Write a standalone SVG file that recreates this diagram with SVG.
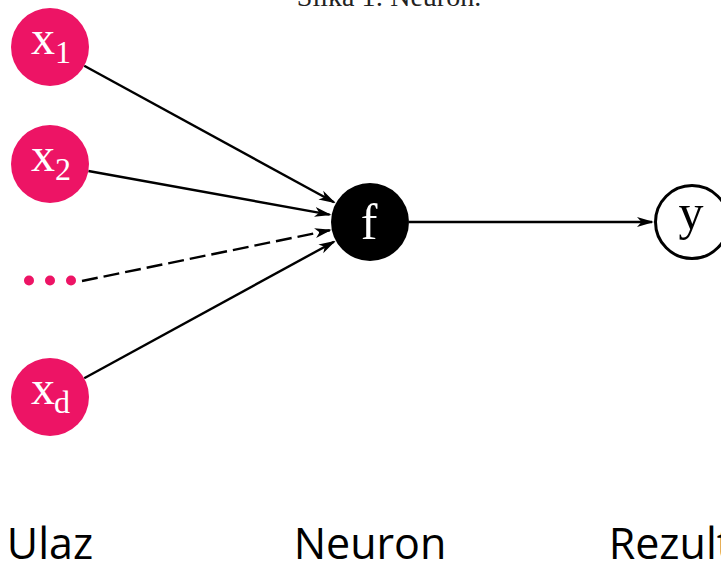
<svg xmlns="http://www.w3.org/2000/svg" width="721" height="564" viewBox="0 0 721 564">
<style>
.in{fill:#ED1465}
.lbl{font-family:"Liberation Serif","Times New Roman",serif;fill:#fff;font-size:48px}
.sub{font-size:32px}
.cap{font-family:"Open Sans","Noto Sans",sans-serif;font-size:43px;fill:#000;text-anchor:middle}
.edge{stroke:#000;stroke-width:2.4;fill:none;marker-end:url(#ah)}
</style>
<defs>
<marker id="ah" markerUnits="userSpaceOnUse" viewBox="0 0 17 11" refX="15" refY="5.5" markerWidth="17" markerHeight="11" orient="auto">
<path d="M0,0.5 L17,5.5 L0,10.5 L4.5,5.5 Z" fill="#000"/>
</marker>
</defs>
<text x="389" y="6" style="font-family:'Liberation Serif','Times New Roman',serif;font-size:28px;fill:#222;text-anchor:middle">Slika 1: Neuron.</text>
<g id="connectors">
<line class="edge" x1="84.2" y1="65.7" x2="334" y2="202.3"/>
<line class="edge" x1="88.4" y1="171" x2="329.6" y2="214.6"/>
<line class="edge" x1="82" y1="281" x2="329.8" y2="230.2" stroke-dasharray="16 6"/>
<line class="edge" x1="84.2" y1="378.3" x2="334" y2="241.7"/>
<line class="edge" x1="409" y1="222" x2="652" y2="222"/>
</g>
<g id="x1">
<circle class="in" cx="50" cy="47" r="39"/>
<text class="lbl" x="31" y="54">x</text><text class="lbl sub" x="55" y="63">1</text>
</g>
<g id="x2">
<circle class="in" cx="50" cy="164" r="39"/>
<text class="lbl" x="31" y="171">x</text><text class="lbl sub" x="55" y="180">2</text>
</g>
<g id="dots">
<circle class="in" cx="29" cy="280.5" r="5"/>
<circle class="in" cx="50" cy="280.5" r="5"/>
<circle class="in" cx="71" cy="280.5" r="5"/>
</g>
<g id="xd">
<circle class="in" cx="50" cy="397" r="39"/>
<text class="lbl" x="31" y="404">x</text><text class="lbl sub" x="54" y="413">d</text>
</g>
<g id="f">
<circle cx="370" cy="222" r="39" fill="#000"/>
<text class="lbl" x="369" y="239" text-anchor="middle" style="font-size:50px">f</text>
</g>
<g id="y">
<circle cx="692" cy="222" r="36.5" fill="#fff" stroke="#000" stroke-width="3"/>
<text x="691" y="229" text-anchor="middle" style="font-family:'Liberation Serif','Times New Roman',serif;font-size:50px;fill:#000">y</text>
</g>
<text class="cap" x="50" y="559">Ulaz</text>
<text class="cap" x="370" y="559">Neuron</text>
<text class="cap" x="690" y="559">Rezultat</text>
</svg>
